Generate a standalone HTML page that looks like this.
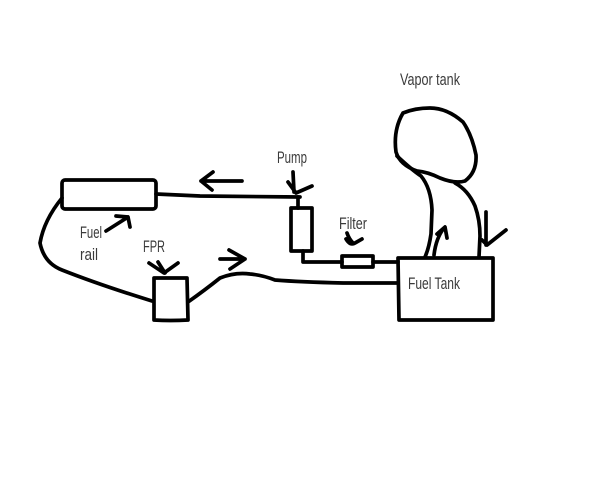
<!DOCTYPE html>
<html><head><meta charset="utf-8"><style>
html,body{margin:0;padding:0;background:#fff;}
svg{display:block;}
text{font-family:"Liberation Sans Narrow","Liberation Sans",sans-serif;font-size:17px;fill:#3a3a3a;}
</style></head><body>
<svg width="600" height="480" viewBox="0 0 600 480" xmlns="http://www.w3.org/2000/svg">
<g fill="none" stroke="#000" stroke-width="3.7" stroke-linecap="round" stroke-linejoin="round">
<!-- fuel rail -->
<rect x="62" y="180" width="94" height="29" rx="3"/>
<!-- rail to pump -->
<path d="M156,194 L200,196 L300,197"/>
<!-- left arrow -->
<path d="M201,181 L242,181 M213,172 L201,181 L212,190"/>
<!-- pump arrow -->
<path d="M293,172 L294,192 M288,182 L296,193 L312,186"/>
<!-- pump box -->
<path d="M298,197 L298,208"/>
<rect x="291" y="208" width="21" height="43"/>
<!-- pump to filter -->
<path d="M303,251 L303,262 L342,262"/>
<rect x="342" y="256" width="31" height="11"/>
<path d="M373,262 L398,262"/>
<!-- filter arrow -->
<path d="M347,233 Q349,239 353,243 M346,239 Q350,246 355,243 L362,239"/>
<!-- fuel tank -->
<path d="M398,258 L493,258 L493,320 L399,320 Z"/>
<!-- vapor tank blob -->
<path d="M403,113 Q415,108 430,108 Q447,108 463,122 Q472,135 476,155 Q477,172 465,181 Q455,184 440,178 Q428,172 417,171 Q400,165 396,152 Q393,130 403,113 Z"/>
<!-- neck -->
<path d="M397,156 Q412,170 421,176 Q431,188 432,210 L431,234 Q429,248 425,257"/>
<path d="M455,183 Q468,190 475,206 Q480,220 480,236 L479,257"/>
<!-- up arrow in neck -->
<path d="M434,255 Q436,238 444,228 M437,234 L445,227 L447,238"/>
<!-- down arrow right -->
<path d="M486,212 L486,245 M482,240 L487,245 L506,230"/>
<!-- return line FPR to tank -->
<path d="M188,302 Q205,290 220,278 Q235,272 250,274 Q262,275 275,280 Q300,282 343,283 L398,283"/>
<!-- right arrow -->
<path d="M220,259 L245,259 M229,250 L245,259 L230,269"/>
<!-- FPR box -->
<path d="M154,278 L187,278 L188,320 Q170,321 154,320 Z"/>
<!-- FPR arrow -->
<path d="M158,262 L165,273 M149,263 L164,273 L178,263"/>
<!-- fuel rail curve to FPR -->
<path d="M62,198 Q44,220 40,243 Q44,263 62,270 Q100,285 152,301"/>
<!-- fuel rail arrow -->
<path d="M106,231 L128,217 M116,216 L128,217 L130,227"/>
</g>
<text x="400" y="85" textLength="60" lengthAdjust="spacingAndGlyphs">Vapor tank</text>
<text x="277" y="163" textLength="30" lengthAdjust="spacingAndGlyphs">Pump</text>
<text x="339" y="229" textLength="28" lengthAdjust="spacingAndGlyphs">Filter</text>
<text x="408" y="289" textLength="52" lengthAdjust="spacingAndGlyphs">Fuel Tank</text>
<text x="80" y="238" textLength="22" lengthAdjust="spacingAndGlyphs">Fuel</text>
<text x="80" y="260" textLength="18" lengthAdjust="spacingAndGlyphs">rail</text>
<text x="143" y="252" textLength="22" lengthAdjust="spacingAndGlyphs">FPR</text>
</svg>
</body></html>
